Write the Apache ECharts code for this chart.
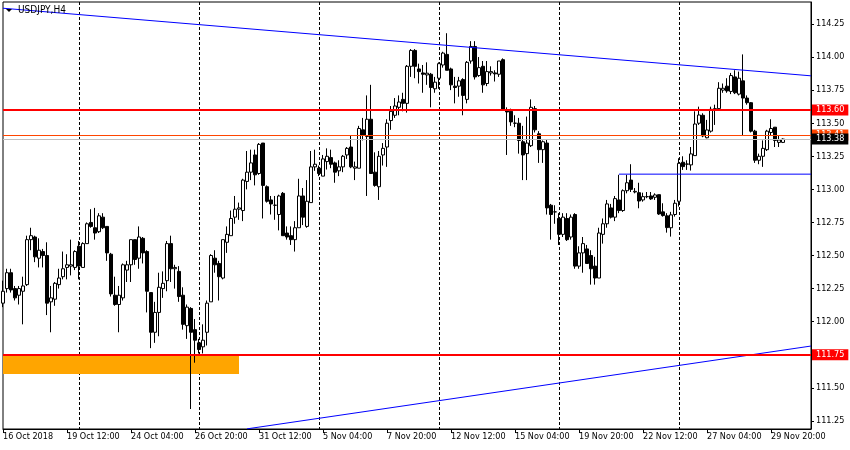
<!DOCTYPE html>
<html><head><meta charset="utf-8">
<script src="https://cdn.jsdelivr.net/npm/echarts@6/dist/echarts.min.js"></script>
<style>html,body{margin:0;padding:0;background:#fff}#c{width:850px;height:450px}</style>
</head><body><div id="c"></div>
<script>
const symbolTitle = 'USDJPY,H4';
const xTickLabels = ['16 Oct 2018','19 Oct 12:00','24 Oct 04:00','26 Oct 20:00','31 Oct 12:00','5 Nov 04:00','7 Nov 20:00','12 Nov 12:00','15 Nov 04:00','19 Nov 20:00','22 Nov 12:00','27 Nov 04:00','29 Nov 20:00'];
const weekStartBars = [19,49,79,109,139,169];
const yTickValues = [111.25,111.5,111.75,112,112.25,112.5,112.75,113,113.25,113.5,113.75,114,114.25];
const emptySlots = 7;

const opens = [112.14,112.25,112.37,112.25,112.20,112.23,112.28,112.62,112.64,112.48,
112.53,112.50,112.15,112.17,112.28,112.34,112.41,112.42,112.41,112.57,
112.41,112.59,112.75,112.71,112.68,112.79,112.72,112.51,112.20,112.13,
112.18,112.39,112.43,112.62,112.48,112.63,112.53,112.22,111.92,112.07,
112.25,112.31,112.59,112.40,112.38,112.20,111.97,112.10,111.94,111.84,
111.81,111.92,112.15,112.48,112.44,112.33,112.60,112.65,112.79,112.85,
112.84,113.06,113.13,113.26,113.12,113.35,113.02,112.92,112.88,112.81,
112.97,112.67,112.65,112.62,112.71,112.95,112.72,112.90,113.17,113.16,
113.10,113.21,113.24,113.20,113.14,113.17,113.26,113.32,113.16,113.16,
113.45,113.40,113.53,113.13,113.02,113.26,113.32,113.52,113.56,113.62,
113.68,113.65,113.93,114.05,113.91,113.88,113.865,113.87,113.76,113.84,
113.94,114.02,113.91,113.78,113.78,113.83,113.68,113.97,114.08,113.86,
113.93,113.80,113.88,113.88,113.87,113.98,113.60,113.59,113.50,113.50,
113.36,113.27,113.33,113.61,113.42,113.30,113.35,112.88,112.83,112.78,
112.66,112.78,112.64,112.81,112.42,112.52,112.55,112.50,112.42,112.33,
112.66,112.74,112.86,112.79,112.92,112.84,112.99,113.07,112.98,112.975,
112.92,112.945,112.95,112.94,112.96,112.83,112.80,112.71,112.81,112.91,
113.205,113.19,113.185,113.255,113.50,113.56,113.39,113.44,113.60,113.61,
113.75,113.78,113.74,113.85,113.72,113.82,113.69,113.655,113.44,113.22,
113.25,113.30,113.43,113.47,113.355,113.355];

const highs = [112.31,112.40,112.40,112.27,112.27,112.34,112.65,112.71,112.65,112.63,
112.55,112.60,112.27,112.30,112.40,112.53,112.51,112.62,112.54,112.61,
112.60,112.75,112.85,112.86,112.82,112.82,112.72,112.52,112.34,112.27,
112.44,112.46,112.62,112.62,112.72,112.64,112.54,112.22,112.15,112.37,
112.38,112.61,112.65,112.43,112.42,112.26,112.13,112.11,112.02,111.87,
111.98,112.16,112.51,112.54,112.46,112.62,112.72,112.84,112.95,112.90,
113.08,113.29,113.30,113.30,113.35,113.35,113.03,112.95,112.95,112.96,
112.98,112.72,112.72,112.76,113.08,113.01,113.07,113.29,113.30,113.18,
113.26,113.31,113.30,113.21,113.22,113.26,113.32,113.41,113.21,113.48,
113.54,113.71,113.79,113.28,113.29,113.35,113.53,113.63,113.69,113.71,
113.73,113.94,114.06,114.06,113.95,113.94,113.96,113.88,113.85,113.96,
114.04,114.18,113.92,113.85,113.85,113.84,113.97,114.12,114.12,114.00,
113.97,113.97,113.93,113.90,113.97,113.99,113.62,113.61,113.56,113.54,
113.48,113.55,113.68,113.63,113.44,113.37,113.38,112.89,112.88,112.82,
112.82,112.82,112.81,112.82,112.57,112.64,112.58,112.54,112.49,112.71,
112.78,112.92,112.89,112.95,113.11,113.00,113.11,113.19,113.01,113.05,
112.975,112.98,112.98,112.97,112.96,112.895,112.82,112.83,112.92,113.235,
113.25,113.22,113.32,113.59,113.625,113.575,113.525,113.625,113.64,113.81,
113.80,113.84,113.88,113.90,113.89,114.02,113.71,113.66,113.45,113.27,
113.37,113.45,113.53,113.47,113.41,113.385];

const lows = [112.11,112.22,112.22,112.16,112.13,111.98,112.27,112.54,112.45,112.41,
112.41,112.05,111.92,112.12,112.25,112.32,112.32,112.35,112.39,112.32,
112.41,112.59,112.71,112.62,112.67,112.70,112.46,112.19,112.12,111.92,
112.16,112.30,112.30,112.43,112.40,112.44,112.07,111.80,111.84,111.89,
112.18,112.23,112.30,112.25,112.15,111.94,111.87,111.34,111.69,111.76,
111.76,111.82,112.15,112.37,112.16,112.32,112.52,112.65,112.74,112.77,
112.76,113.00,113.07,113.03,113.11,112.78,112.90,112.81,112.77,112.69,
112.65,112.62,112.58,112.53,112.71,112.73,112.71,112.90,113.14,113.10,
113.10,113.15,113.16,113.05,113.10,113.13,113.23,113.16,113.07,113.16,
113.37,112.95,113.12,113.02,112.92,113.18,113.17,113.45,113.54,113.56,
113.59,113.58,113.85,113.84,113.80,113.73,113.79,113.62,113.73,113.76,
113.92,113.90,113.75,113.65,113.70,113.56,113.65,113.95,113.83,113.85,
113.73,113.78,113.86,113.815,113.85,113.60,113.26,113.48,113.47,113.27,
113.07,113.07,113.32,113.43,113.20,113.20,112.81,112.62,112.74,112.58,
112.64,112.61,112.62,112.40,112.40,112.37,112.44,112.28,112.28,112.33,
112.59,112.71,112.78,112.76,112.82,112.83,112.97,112.98,112.97,112.857,
112.907,112.933,112.92,112.92,112.807,112.794,112.673,112.643,112.794,112.87,
113.147,113.147,113.142,113.255,113.487,113.394,113.386,113.429,113.487,113.60,
113.73,113.73,113.72,113.72,113.71,113.41,113.64,113.43,113.20,113.19,
113.17,113.29,113.41,113.32,113.32,113.35];

const closes = [112.23,112.37,112.24,112.18,112.25,112.27,112.62,112.65,112.49,112.54,
112.50,112.14,112.18,112.29,112.33,112.40,112.43,112.43,112.53,112.42,
112.59,112.74,112.72,112.67,112.80,112.71,112.52,112.21,112.13,112.20,
112.43,112.43,112.62,112.47,112.64,112.52,112.23,111.92,112.07,112.26,
112.29,112.59,112.40,112.41,112.19,111.98,112.11,111.92,111.86,111.79,
111.86,112.14,112.50,112.43,112.34,112.62,112.66,112.78,112.85,112.86,
113.07,113.13,113.20,113.11,113.34,113.03,112.91,112.89,112.88,112.95,
112.65,112.64,112.62,112.71,112.95,112.79,112.91,113.17,113.19,113.12,
113.23,113.25,113.19,113.13,113.17,113.25,113.31,113.17,113.17,113.46,
113.41,113.53,113.12,113.03,113.25,113.31,113.50,113.59,113.63,113.66,
113.65,113.93,114.05,113.93,113.89,113.87,113.878,113.77,113.81,113.95,
114.03,113.90,113.79,113.77,113.82,113.71,113.96,114.08,113.85,113.92,
113.79,113.89,113.89,113.873,113.97,113.60,113.585,113.51,113.50,113.37,
113.26,113.35,113.62,113.45,113.30,113.36,112.86,112.81,112.83,112.66,
112.79,112.62,112.79,112.42,112.52,112.59,112.44,112.40,112.33,112.67,
112.74,112.89,112.79,112.93,112.84,112.99,113.05,113.00,112.985,112.912,
112.945,112.945,112.928,112.958,112.814,112.802,112.711,112.807,112.895,113.197,
113.172,113.192,113.268,113.494,113.562,113.404,113.449,113.605,113.61,113.764,
113.764,113.744,113.86,113.73,113.84,113.69,113.655,113.44,113.22,113.25,
113.31,113.44,113.46,113.37,113.373,113.38];

const upperTrend = [[0,114.369],[202,113.858]];
const lowerTrend = [[61,111.19],[202,111.816]];
const rangeHighLine = [[154,113.115],[202,113.115]];
const keyLevels = [113.60, 111.75];
const askPrice = 113.41;
const bidPrice = 113.38;
const supportZone = [[0,111.75],[59,111.605]];

const FONT = "'DejaVu Sans Condensed','Liberation Sans',sans-serif";
const barCount = opens.length + emptySlots;
const xCategories = Array.from({length: barCount}, (_, i) => String(i));
const candles = opens.map((o, i) => [o, closes[i], lows[i], highs[i]]);

function priceTag(value, bg) {
  return {
    yAxis: value,
    label: {
      show: true, position: 'end', distance: 1,
      formatter: value.toFixed(2),
      color: '#fff', backgroundColor: bg,
      fontFamily: FONT, fontSize: 9, lineHeight: 11,
      padding: [0, 4, 0, 4]
    }
  };
}

function levelSeries(lineColor, width, items, z) {
  return {
    type: 'line', data: [], z: z, zlevel: 0, silent: true,
    markLine: {silent: true, symbol: ['none', 'none'], animation: false, z: z,
      lineStyle: {color: lineColor, width: width, type: 'solid'},
      data: items}
  };
}

const chart = echarts.init(document.getElementById('c'), null, {renderer: 'canvas'});
chart.setOption({
  animation: false,
  backgroundColor: '#fff',
  graphic: [
    {type: 'polygon', shape: {points: [[6,9],[12,9],[9,12]]}, style: {fill: '#000'}, z: 10},
    {type: 'text', x: 18, y: 5, style: {text: symbolTitle, fill: '#000', font: '10px ' + FONT, verticalAlign: 'top'}, z: 10}
  ],
  grid: {left: 3, right: 39, top: 2, bottom: 21, show: true, borderColor: '#000', borderWidth: 1, backgroundColor: '#fff'},
  xAxis: {
    type: 'category', data: xCategories, boundaryGap: false,
    axisLine: {show: true, lineStyle: {color: '#000', width: 1}},
    axisTick: {show: true, length: 4, lineStyle: {color: '#000'},
      interval: (i) => i % 16 === 0 && i / 16 < xTickLabels.length},
    axisLabel: {show: true, color: '#000', fontFamily: FONT, fontSize: 9, align: 'left', margin: 3,
      interval: (i) => i % 16 === 0 && i / 16 < xTickLabels.length,
      formatter: (v, i) => xTickLabels[i / 16] || ''},
    splitLine: {show: true, interval: (i) => weekStartBars.indexOf(i) >= 0,
      lineStyle: {color: '#000', width: 1, type: [3, 2]}}
  },
  yAxis: {
    type: 'value', position: 'right', min: 111.189, max: 114.416, scale: true,
    splitLine: {show: false},
    axisLine: {show: true, lineStyle: {color: '#000', width: 1}},
    axisTick: {show: true, length: 3, lineStyle: {color: '#000'}, customValues: yTickValues},
    axisLabel: {show: true, color: '#000', fontFamily: FONT, fontSize: 9, margin: 5,
      customValues: yTickValues, formatter: (v) => v.toFixed(2)}
  },
  series: [
    {
      type: 'line', data: [], z: 1, silent: true,
      markArea: {silent: true, itemStyle: {color: '#FFA500', opacity: 1},
        data: [[{coord: supportZone[0]}, {coord: supportZone[1]}]]}
    },
    {
      type: 'candlestick', data: candles, barWidth: 3, z: 2, silent: true,
      itemStyle: {color: '#fff', color0: '#000', borderColor: '#000', borderColor0: '#000', borderWidth: 1}
    },
    {type: 'line', data: upperTrend, z: 3, symbol: 'none', silent: true, lineStyle: {color: '#0000FF', width: 1}},
    {type: 'line', data: lowerTrend, z: 3, symbol: 'none', silent: true, lineStyle: {color: '#0000FF', width: 1}},
    {type: 'line', data: rangeHighLine, z: 3, symbol: 'none', silent: true, lineStyle: {color: '#0000FF', width: 1}},
    levelSeries('#FF4500', 1, [priceTag(askPrice, '#FF4500')], 4),
    levelSeries('#C0C0C0', 1, [priceTag(bidPrice, '#000')], 5),
    levelSeries('#FF0000', 2, keyLevels.map(v => priceTag(v, '#FF0000')), 6)
  ]
});
</script>
</body></html>
